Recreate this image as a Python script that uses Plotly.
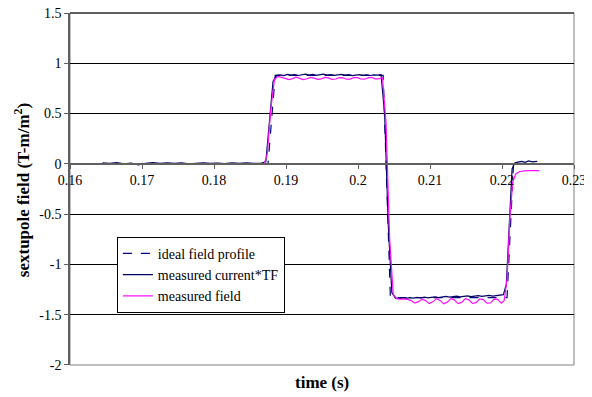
import plotly.graph_objects as go

# ---- data ----
ideal_t = [0.1617, 0.1875, 0.1885, 0.2035, 0.2045, 0.2207, 0.2216, 0.2264]
ideal_y = [0.0, 0.0, 0.88, 0.88, -1.33, -1.33, 0.0, 0.0]

cur_t = [0.1645, 0.1655, 0.1665, 0.1675, 0.1685, 0.1695, 0.1705, 0.1715, 0.1725, 0.1735,
         0.1745, 0.1755, 0.1765, 0.1775, 0.1785, 0.1795, 0.1805, 0.1815, 0.1825, 0.1835,
         0.1845, 0.1855, 0.1865,
         0.1872, 0.1877, 0.1882, 0.1887,
         0.1892, 0.1897, 0.1902, 0.1907, 0.1912, 0.1917, 0.1922, 0.1927, 0.1932, 0.1937,
         0.1942, 0.1947, 0.1952, 0.1957, 0.1962, 0.1967, 0.1972, 0.1977, 0.1982, 0.1987,
         0.1992, 0.1997, 0.2002, 0.2007, 0.2012, 0.2017, 0.2022, 0.2027, 0.2032,
         0.2037, 0.2042, 0.2047, 0.2052,
         0.2057, 0.2062, 0.2067, 0.2072, 0.2077, 0.2082, 0.2087, 0.2092, 0.2097, 0.2102,
         0.2107, 0.2112, 0.2117, 0.2122, 0.2127, 0.2132, 0.2137, 0.2142, 0.2147, 0.2152,
         0.2157, 0.2162, 0.2167, 0.2172, 0.2177, 0.2182, 0.2187, 0.2192, 0.2197,
         0.2202, 0.2206, 0.2210, 0.2214, 0.2218,
         0.2222, 0.2227, 0.2232, 0.2237, 0.2242, 0.2249]
cur_y = [0.010, 0.005, 0.012, 0.000, 0.008, -0.010, 0.004, 0.012, 0.006, 0.010,
         0.004, 0.009, 0.000, 0.007, 0.011, 0.005, 0.008, 0.003, 0.010, 0.006,
         0.009, 0.004, 0.006,
         0.02, 0.45, 0.82, 0.88,
         0.885, 0.878, 0.890, 0.882, 0.888, 0.879, 0.887, 0.892, 0.884, 0.889,
         0.881, 0.886, 0.893, 0.883, 0.887, 0.880, 0.885, 0.889, 0.882, 0.887,
         0.878, 0.884, 0.888, 0.881, 0.886, 0.879, 0.885, 0.883, 0.887,
         0.50, -0.60, -1.28, -1.335,
         -1.340, -1.332, -1.338, -1.330, -1.336, -1.328, -1.334, -1.325, -1.332, -1.327,
         -1.322, -1.330, -1.324, -1.318, -1.326, -1.320, -1.316, -1.323, -1.318, -1.312,
         -1.320, -1.315, -1.310, -1.318, -1.312, -1.308, -1.315, -1.310, -1.306,
         -1.300, -1.20, -0.55, -0.05, 0.010,
         0.020, 0.025, 0.015, 0.030, 0.020, 0.025]

fld_t = [0.1650, 0.1660, 0.1670, 0.1680, 0.1690, 0.1700, 0.1710, 0.1720, 0.1730, 0.1740,
         0.1750, 0.1760, 0.1770, 0.1780, 0.1790, 0.1800, 0.1810, 0.1820, 0.1830, 0.1840,
         0.1850, 0.1860, 0.1870,
         0.1874, 0.1879, 0.1884, 0.1889,
         0.1894, 0.1899, 0.1904, 0.1909, 0.1914, 0.1919, 0.1924, 0.1929, 0.1934, 0.1939,
         0.1944, 0.1949, 0.1954, 0.1959, 0.1964, 0.1969, 0.1974, 0.1979, 0.1984, 0.1989,
         0.1994, 0.1999, 0.2004, 0.2009, 0.2014, 0.2019, 0.2024, 0.2029, 0.2034,
         0.2039, 0.2044, 0.2049, 0.2054,
         0.2059, 0.2064, 0.2069, 0.2074, 0.2079, 0.2084, 0.2089, 0.2094, 0.2099, 0.2104,
         0.2109, 0.2114, 0.2119, 0.2124, 0.2129, 0.2134, 0.2139, 0.2144, 0.2149, 0.2154,
         0.2159, 0.2164, 0.2169, 0.2174, 0.2179, 0.2184, 0.2189, 0.2194, 0.2199,
         0.2203, 0.2207, 0.2211, 0.2215, 0.2219, 0.2224, 0.2231, 0.2240, 0.2252]
fld_y = [0.000, -0.004, 0.002, -0.003, 0.001, -0.005, 0.000, -0.002, 0.002, -0.004,
         0.001, -0.002, 0.000, -0.003, 0.002, -0.001, -0.004, 0.001, -0.002, 0.000,
         -0.003, 0.001, 0.000,
         0.10, 0.55, 0.84, 0.87,
         0.860, 0.850, 0.838, 0.848, 0.862, 0.850, 0.838, 0.846, 0.860, 0.852,
         0.840, 0.845, 0.860, 0.855, 0.840, 0.844, 0.858, 0.856, 0.842, 0.843,
         0.857, 0.858, 0.844, 0.842, 0.855, 0.860, 0.846, 0.845, 0.856,
         0.40, -0.75, -1.30, -1.34,
         -1.345, -1.342, -1.348, -1.360, -1.385, -1.370, -1.345, -1.360, -1.390, -1.372,
         -1.340, -1.358, -1.392, -1.375, -1.338, -1.355, -1.390, -1.378, -1.340, -1.352,
         -1.388, -1.380, -1.342, -1.350, -1.386, -1.382, -1.345, -1.348, -1.385,
         -1.360, -1.15, -0.52, -0.18, -0.10, -0.078, -0.070, -0.068, -0.068]

x_ticks = [0.16, 0.17, 0.18, 0.19, 0.20, 0.21, 0.22, 0.23]
x_tick_labels = ["0.16", "0.17", "0.18", "0.19", "0.2", "0.21", "0.22", "0.23"]
y_ticks = [-2, -1.5, -1, -0.5, 0, 0.5, 1, 1.5]
y_tick_labels = ["-2", "-1.5", "-1", "-0.5", "0", "0.5", "1", "1.5"]

FONT = "Liberation Serif"

fig = go.Figure()
fig.add_trace(go.Scatter(x=ideal_t, y=ideal_y, mode="lines", name="ideal field profile",
                         line=dict(color="#000080", width=1.2, dash="dash")))
fig.add_trace(go.Scatter(x=cur_t, y=cur_y, mode="lines", name="measured current*TF",
                         line=dict(color="#000066", width=1.2)))
fig.add_trace(go.Scatter(x=fld_t, y=fld_y, mode="lines", name="measured field",
                         line=dict(color="#FF11FF", width=1.2)))

fig.update_layout(
    width=584, height=389,
    margin=dict(l=62, r=18, t=5, b=32, autoexpand=False),
    paper_bgcolor="white", plot_bgcolor="white",
    font=dict(family=FONT, size=14, color="black"),
    showlegend=True,
    legend=dict(x=0.093, y=0.364, xanchor="left", yanchor="top",
                bgcolor="white", bordercolor="black", borderwidth=1,
                font=dict(family=FONT, size=14, color="black"),
                tracegroupgap=0, itemwidth=30),
    shapes=[
        dict(type="rect", xref="paper", yref="paper", x0=0, x1=1, y0=0, y1=1,
             line=dict(color="#808080", width=1), layer="below"),
        dict(type="line", xref="paper", yref="paper", x0=0, x1=1, y0=1, y1=1,
             line=dict(color="black", width=1), layer="above"),
    ],
    annotations=[
        dict(text="<b>time (s)</b>", xref="paper", yref="paper", x=0.5, y=-0.051,
             xanchor="center", yanchor="middle", showarrow=False,
             font=dict(family=FONT, size=17, color="black")),
        dict(text="<b>sextupole field (T-m/m<sup>2</sup>)</b>", xref="paper", yref="paper",
             x=-0.095, y=0.497, xanchor="center", yanchor="middle", textangle=-90,
             showarrow=False, font=dict(family=FONT, size=17, color="black")),
    ],
)
fig.update_xaxes(range=[0.16, 0.23], tickvals=x_ticks, ticktext=x_tick_labels,
                 anchor="free", position=2 / 3.5, showgrid=False, zeroline=False,
                 showline=True, linecolor="#606060", linewidth=1.5,
                 ticks="outside", ticklen=4, tickcolor="#606060",
                 ticklabeloverflow="allow", automargin=False,
                 tickfont=dict(family=FONT, size=14, color="black"))
fig.update_yaxes(range=[-2.0002, 1.5002], tickvals=y_ticks, ticktext=y_tick_labels,
                 showgrid=True, gridcolor="black", gridwidth=1, zeroline=False,
                 showline=True, linecolor="#606060", linewidth=1.5,
                 ticks="outside", ticklen=4, tickcolor="#606060",
                 ticklabeloverflow="allow", automargin=False,
                 tickfont=dict(family=FONT, size=14, color="black"))

fig.write_html("out.html")
